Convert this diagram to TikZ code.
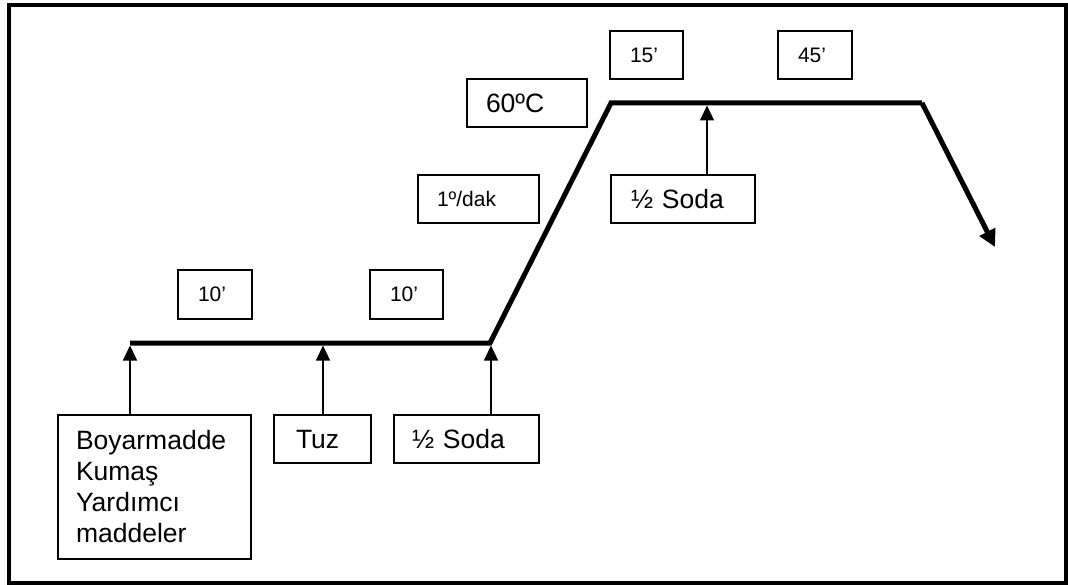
\documentclass[tikz,border=0pt]{standalone}
\usepackage{fontspec}
\setmainfont{Liberation Sans}
\usetikzlibrary{arrows.meta}
\newcommand{\bigtxt}{\fontsize{26.5}{31}\selectfont}
\newcommand{\smalltxt}{\fontsize{21}{25}\selectfont}
\begin{document}
\begin{tikzpicture}[x=1pt,y=-1pt,
  labelbox/.style={draw, line width=1.3pt, anchor=north west, align=left, inner ysep=0pt, outer sep=0pt},
  onebox/.style={labelbox, text depth=0pt},
  bigbox/.style={onebox, font=\bigtxt},
  smallbox/.style={onebox, font=\smalltxt},
  multibox/.style={labelbox, font=\bigtxt},
  process/.style={line width=5pt, line join=miter},
  feed/.style={line width=1.3pt, -{Triangle[length=15pt,width=14pt]}},
  ]
\useasboundingbox (0,0) rectangle (1068,585);
\draw[line width=3.5pt] (9,5) rectangle (1066,583);

% process line corners
\coordinate (p0) at (130,343);
\coordinate (p1) at (490,343);
\coordinate (p2) at (611,103);
\coordinate (p3) at (922,103);
\coordinate (p4) at (995,247);
\coordinate (f1) at (130,343);
\coordinate (f2) at (323,343);
\coordinate (f3) at (491,343);
\coordinate (f4) at (707,103);

% boxes
\node[multibox, minimum width=193pt, minimum height=144pt, inner xsep=18pt, text width=157pt] (boy) at (58,415) {Boyarmadde\\Kumaş\\Yardımcı\\maddeler};
\node[bigbox, minimum width=97pt, minimum height=48pt, inner xsep=22pt, text width=53pt] (tuz) at (274,415) {Tuz};
\node[bigbox, minimum width=145pt, minimum height=48pt, inner xsep=18pt, text width=109pt] (sodaA) at (394,415) {½ Soda};
\node[smallbox, minimum width=74pt, minimum height=49pt, inner xsep=20pt, text width=34pt] (ta) at (178,270) {10’};
\node[smallbox, minimum width=73pt, minimum height=49pt, inner xsep=20pt, text width=33pt] (tb) at (370,270) {10’};
\node[smallbox, minimum width=73pt, minimum height=48pt, inner xsep=20pt, text width=33pt] (tc) at (610,31) {15’};
\node[smallbox, minimum width=74pt, minimum height=48pt, inner xsep=20pt, text width=34pt] (td) at (778,31) {45’};
\node[bigbox, minimum width=120pt, minimum height=48pt, inner xsep=19pt, text width=82pt] (temp) at (467,79) {60ºC};
\node[smallbox, minimum width=121pt, minimum height=48pt, inner xsep=19pt, text width=83pt] (rate) at (418,175) {1º/dak};
\node[bigbox, minimum width=144pt, minimum height=48pt, inner xsep=20pt, text width=104pt] (sodaB) at (611,175) {½ Soda};

% process curve
\draw[process] (p0) -- (p1) -- (p2) -- (p3);
\draw[process, -{Triangle[length=17pt,width=17pt]}] (p3) -- (p4);

% feed arrows
\draw[feed] (f1 |- boy.north) -- ([yshift=-2.5pt]f1);
\draw[feed] (f2 |- tuz.north) -- ([yshift=-2.5pt]f2);
\draw[feed] (f3 |- sodaA.north) -- ([yshift=-2.5pt]f3);
\draw[feed] (f4 |- sodaB.north) -- ([yshift=-2.5pt]f4);
\end{tikzpicture}
\end{document}
